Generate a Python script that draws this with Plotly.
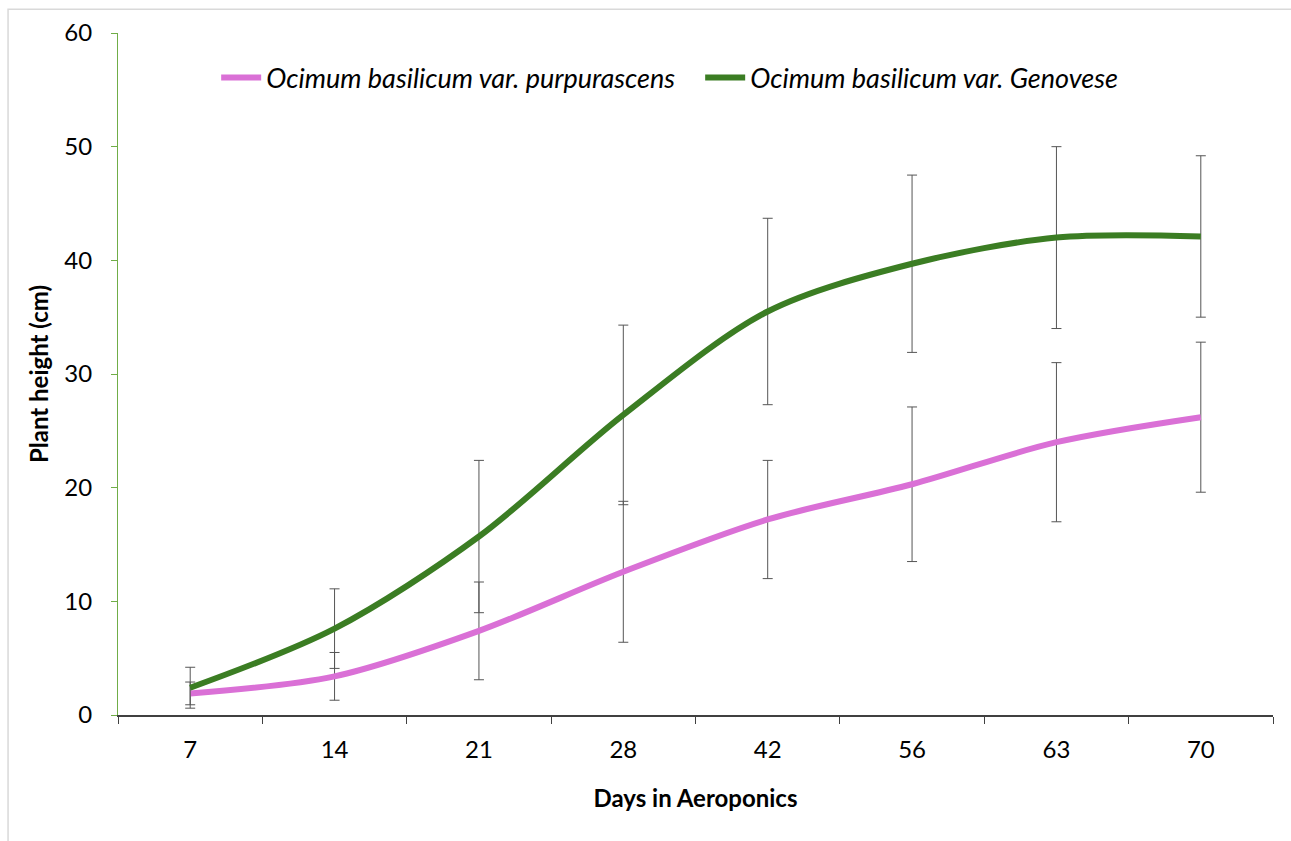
import plotly.graph_objects as go

days = ["7", "14", "21", "28", "42", "56", "63", "70"]
purp_mean = [1.9, 3.4, 7.4, 12.6, 17.2, 20.3, 24.0, 26.2]
purp_err = [1.0, 2.1, 4.3, 6.2, 5.2, 6.8, 7.0, 6.6]
gen_mean = [2.4, 7.6, 15.7, 26.4, 35.5, 39.7, 42.0, 42.1]
gen_err = [1.8, 3.5, 6.7, 7.9, 8.2, 7.8, 8.0, 7.1]

name_purp = "<i>Ocimum basilicum var. purpurascens</i>"
name_gen = "<i>Ocimum basilicum var. Genovese</i>"

FONT = "Lato, Open Sans, sans-serif"

fig = go.Figure()
fig.add_trace(go.Scatter(
    x=days, y=purp_mean, name=name_purp, mode="lines",
    line=dict(color="#DA70D6", width=6, shape="spline", smoothing=0.9),
    error_y=dict(type="data", array=purp_err, visible=True, color="#555555", thickness=1, width=5),
))
fig.add_trace(go.Scatter(
    x=days, y=gen_mean, name=name_gen, mode="lines",
    line=dict(color="#3B7D23", width=6, shape="spline", smoothing=0.9),
    error_y=dict(type="data", array=gen_err, visible=True, color="#555555", thickness=1, width=5),
))

fig.update_layout(
    width=1291, height=841,
    margin=dict(l=118, r=18, t=33, b=126),
    paper_bgcolor="white", plot_bgcolor="white",
    font=dict(family=FONT, size=20, color="#000000"),
    showlegend=True,
    legend=dict(orientation="h", x=0.085, y=0.97, xanchor="left", yanchor="top",
                font=dict(family=FONT, size=27), bgcolor="rgba(0,0,0,0)",
                itemwidth=40,
                entrywidth=429, entrywidthmode="pixels"),
    xaxis=dict(
        type="category", range=[-0.5, 7.5], tickson="boundaries", ticks="outside", ticklen=7,
        tickcolor="#404040", showline=True, linecolor="#404040", linewidth=2,
        showgrid=False, zeroline=False, tickfont=dict(size=24),
        ticklabelstandoff=12,
        title=dict(text="<b>Days in Aeroponics</b>", font=dict(size=24), standoff=28),
    ),
    yaxis=dict(
        range=[0, 60], dtick=10, ticks="outside", ticklen=6,
        tickcolor="#70AD47", showline=True, linecolor="#70AD47", linewidth=1,
        showgrid=False, zeroline=False, tickfont=dict(size=24),
        ticklabelstandoff=14,
        title=dict(text="<b>Plant height (cm)</b>", font=dict(size=24), standoff=8),
    ),
    shapes=[dict(type="rect", xref="paper", yref="paper",
                 x0=-0.0952, x1=1.05, y0=-0.2, y1=1.035,
                 line=dict(color="#D9D9D9", width=1.5), fillcolor="rgba(0,0,0,0)", layer="below")],
)

fig.write_html("out.html")
